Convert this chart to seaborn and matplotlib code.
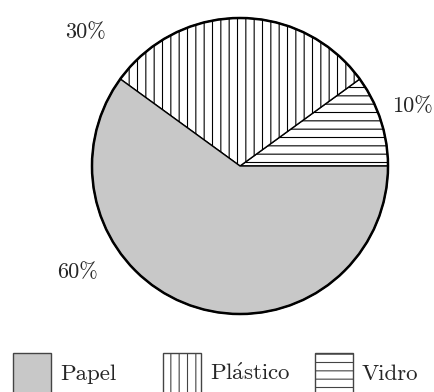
import matplotlib
matplotlib.use("Agg")
import matplotlib.pyplot as plt
from matplotlib.patches import Patch, Circle
import seaborn as sns

categories = ["Vidro", r"Pl$\mathrm{\acute{a}}$stico", "Papel"]
values = [10, 30, 60]
pct_labels = ["10%", "30%", "60%"]
colors = ["white", "white", "#c8c8c8"]
hatches = ["--", "||", ""]

sns.set_style("white")
plt.rcParams["font.family"] = ["cmr10", "DejaVu Serif"]
plt.rcParams["mathtext.fontset"] = "cm"
plt.rcParams["hatch.color"] = "black"
plt.rcParams["hatch.linewidth"] = 0.8

fig = plt.figure(figsize=(4.34, 3.92), dpi=100)
# pie centre at (240, 226) px from bottom-left, radius 148 px
ax = fig.add_axes([55 / 434, 41 / 392, 370 / 434, 370 / 392])
wedges, _ = ax.pie(values, colors=colors, startangle=0, counterclock=True,
                   radius=1, wedgeprops=dict(edgecolor="black", linewidth=1))
for w, h in zip(wedges, hatches):
    w.set_hatch(h)
ax.add_patch(Circle((0, 0), 1, fill=False, edgecolor="black", linewidth=1.8))
ax.set_xlim(-1.25, 1.25)
ax.set_ylim(-1.25, 1.25)
ax.set_aspect("equal")
ax.axis("off")

label_pos = {"10%": (1.162, 0.405), "30%": (-1.047, 0.9), "60%": (-1.095, -0.716)}
for lab in pct_labels:
    x, y = label_pos[lab]
    ax.text(x, y, lab, ha="center", va="center", fontsize=16)

# legend items at fixed positions
leg_x = [13, 163, 315]
for cat, col, h, lx in zip(categories[::-1], colors[::-1], hatches[::-1], leg_x):
    handle = Patch(facecolor=col, edgecolor="#444444", hatch=h, linewidth=1)
    fig.legend(handles=[handle], labels=[cat], loc="lower left",
               bbox_to_anchor=(lx / 434, -2 / 392), frameon=False, fontsize=16.5,
               handlelength=1.65, handleheight=2.4, handletextpad=0.4,
               borderpad=0, borderaxespad=0)

fig.savefig("out.png", dpi=100)
